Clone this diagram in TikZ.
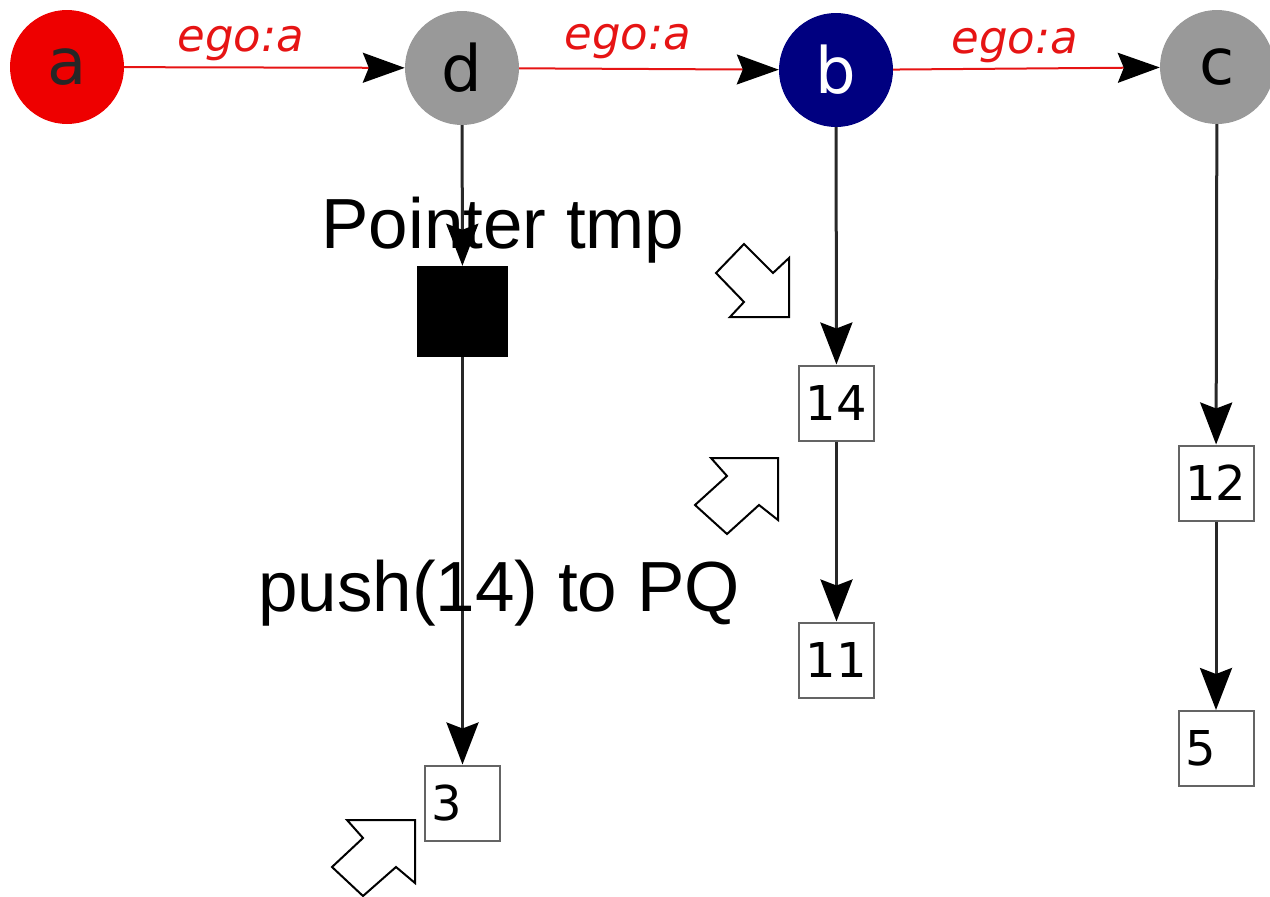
\documentclass[tikz,border=0pt]{standalone}
\usepackage{fontspec}
\setmainfont{Liberation Sans}
\newfontfamily\dvs{DejaVu Sans}
\usetikzlibrary{arrows.meta}
\definecolor{edgered}{RGB}{230,20,20}
\definecolor{nodered}{RGB}{238,0,0}
\definecolor{nodegray}{RGB}{153,153,153}
\definecolor{nodenavy}{RGB}{0,0,128}
\definecolor{boxgray}{RGB}{100,100,100}
\definecolor{linegray}{RGB}{40,40,40}
\begin{document}
\begin{tikzpicture}[x=1pt,y=-1pt,
  vtx/.style={circle, minimum size=114pt, inner sep=0pt, font=\dvs\fontsize{64}{64}\selectfont},
  lst/.style={draw=boxgray, line width=2pt, fill=white, minimum size=75pt, inner sep=0pt, font=\dvs\fontsize{48}{48}\selectfont},
  redge/.style={draw=edgered, line width=2pt, -{Stealth[length=42pt,width=30pt,inset=6pt,color=black]}},
  bedge/.style={draw=linegray, line width=3pt, -{Stealth[length=42pt,width=32pt,inset=6pt,color=black]}},
  elabel/.style={font=\dvs\itshape\fontsize{45}{45}\selectfont, text=edgered, anchor=base},
  bigtext/.style={font=\fontsize{71}{71}\selectfont, anchor=base},
  blockarrow/.style={draw=black, line width=2pt, fill=white, line join=miter}
]
\useasboundingbox (0,0) rectangle (1270,897);
% vertices
\node[vtx, fill=nodered, text=black!85] (a) at (67,67) {a};
\node[vtx, fill=nodegray, text=black] (d) at (462,68) {d};
\node[vtx, fill=nodenavy, text=white] (b) at (836,70) {b};
\node[vtx, fill=nodegray, text=black] (c) at (1217,67) {c};
% pointer
\node[fill=black, minimum size=91pt, inner sep=0pt] (tmp) at (462.5,311.5) {};
% list boxes
\node[lst] (n3) at (462.5,803) {3\phantom{0}};
\node[lst] (n14) at (836.5,403) {14};
\node[lst] (n11) at (836.5,660) {11};
\node[lst] (n12) at (1216,483) {12};
\node[lst] (n5) at (1216,748.5) {5\phantom{0}};
% red edges
\draw[redge] (a) -- (d);
\draw[redge] (d) -- (b);
\draw[redge] (b) -- (c);
\node[elabel] (l1) at (241,51) {ego:a};
\node[elabel] (l2) at (628,49) {ego:a};
\node[elabel] (l3) at (1015,53) {ego:a};
% black edges
\draw[bedge] (d) -- (tmp);
\draw[bedge] (tmp) -- (n3);
\draw[bedge] (b) -- (n14);
\draw[bedge] (n14) -- (n11);
\draw[bedge] (c) -- (n12);
\draw[bedge] (n12) -- (n5);
% texts
\node[bigtext] (ptxt) at (503,248) {Pointer tmp};
\node[bigtext] (push) at (499,611) {push(14) to PQ};
% block arrows
\draw[blockarrow] (716,273) -- (744,244) -- (773,273) -- (789,258) -- (789,317) -- (730,317) -- (744,302) -- cycle;
\draw[blockarrow] (711,458) -- (778,458) -- (778,520) -- (759,505) -- (727,534) -- (695,505) -- (727,476) -- cycle;
\draw[blockarrow] (347,820) -- (415,820) -- (415,883) -- (396,867) -- (363,896) -- (332,867) -- (363,838) -- cycle;
\end{tikzpicture}
\end{document}
